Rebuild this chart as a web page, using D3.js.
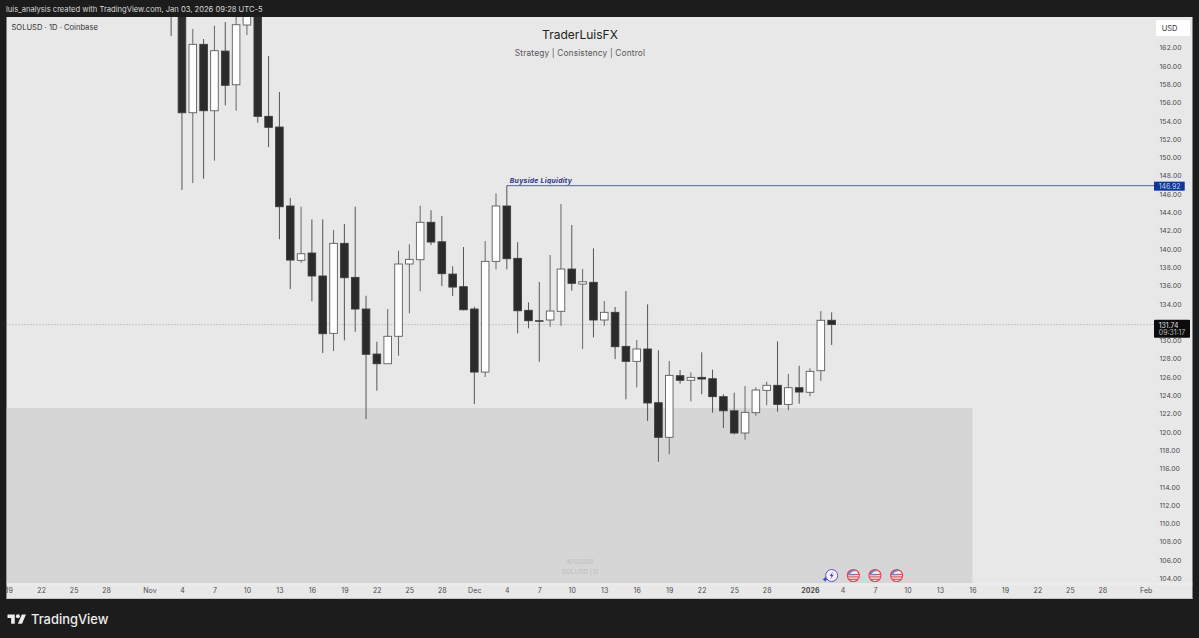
<!DOCTYPE html>
<html><head><meta charset="utf-8">
<script src="https://cdn.jsdelivr.net/npm/d3@7"></script>
<style>
html,body{margin:0;padding:0;background:#1c1c1c;overflow:hidden}
svg{display:block}
text{font-family:Inter,"Liberation Sans",sans-serif}
</style></head><body><div id="chart"></div>
<script>
const firstCandle = "2025-11-03";
const opens = [168,170,154.89,162.37,155.11,161.63,157.95,164.48,168,154.50,153.33,144.70,138.76,139.56,137.05,130.78,140.62,136.90,133.44,128.52,127.46,130.46,138.36,138.83,142.92,140.79,137.26,135.88,133.44,126.55,138.65,144.70,138.98,133.30,132.16,132.24,133.19,137.81,136.17,136.36,132.24,133.08,129.36,127.72,129.07,123.20,119.42,126.15,125.65,125.97,125.82,123.86,122.32,119.89,122.11,124.55,125.10,123.02,124.84,124.34,126.70,132.21];
const highs = [170,171,164.04,162.95,164.40,164.81,166.5,168,170,161.09,157.16,145.57,144.62,143.24,143.24,142.07,142.73,144.62,134.89,129.87,133.44,139.81,140.51,144.73,144.23,143.60,138.11,140.22,133.69,140.87,146.08,146.92,140.73,134.17,136.39,139.34,144.91,142.62,137.81,140.07,134.31,133.66,135.41,130.05,133.95,128.93,127.76,126.77,126.52,128.71,126.81,124.12,124.29,125.02,124.88,125.50,129.91,126.34,127.24,126.96,133.22,133.08];
const lows = [163.28,146.45,147.21,147.68,149.65,155.70,155.11,163.38,153.80,151.14,141.06,135.62,138.50,134.28,128.63,128.85,130.02,130.96,121.42,124.51,127.46,128.33,132.97,135.37,140.43,135.95,134.86,133.30,123.06,126.01,137.78,137.78,130.78,131.33,127.68,131.50,131.61,135.44,129.07,130.35,131.61,127.97,123.57,124.88,121.20,116.75,117.56,125.28,123.35,124.12,122.11,120.43,119.74,119.16,121.78,122.92,122.22,122.37,123.09,123.90,125.57,129.51];
const closes = [166,154.89,162.37,155.11,161.67,157.89,164.51,167,154.50,153.30,144.62,138.79,139.48,137.05,130.74,140.62,136.86,133.44,128.49,127.46,130.46,138.36,138.87,142.92,140.76,137.30,135.84,133.36,126.55,138.65,144.70,138.94,133.25,132.16,132.10,133.22,137.81,136.25,136.42,132.24,133.08,129.32,127.72,129.07,123.17,119.42,126.19,125.65,125.97,125.79,123.86,122.32,119.89,122.15,124.59,125.10,123.02,124.84,124.37,126.63,132.21,131.74];
const tickDates = ["2025-10-19","2025-10-22","2025-10-25","2025-10-28","2025-11-01","2025-11-04","2025-11-07","2025-11-10","2025-11-13","2025-11-16","2025-11-19","2025-11-22","2025-11-25","2025-11-28","2025-12-01","2025-12-04","2025-12-07","2025-12-10","2025-12-13","2025-12-16","2025-12-19","2025-12-22","2025-12-25","2025-12-28","2026-01-01","2026-01-04","2026-01-07","2026-01-10","2026-01-13","2026-01-16","2026-01-19","2026-01-22","2026-01-25","2026-01-28","2026-02-01"];
const priceTicks = [162,160,158,156,154,152,150,148,146,144,142,140,138,136,134,130,128,126,124,122,120,118,116,114,112,110,108,106,104];
const buysideLevel = 146.92, buysideDate = "2025-12-04";
const lastPrice = 131.74, countdown = "09:31:17";
const zoneTop = 122.62, zoneEndDate = "2026-01-16";
const boltDate = "2026-01-03";
const flagDates = ["2026-01-05","2026-01-07","2026-01-09"];

const W=1199,H=638, pL=6.5,pT=17,pR=1192.5,pB=599, axisY=583.5, labelX=1154;
const d=s=>new Date(s+"T00:00:00Z");
const x=d3.scaleUtc().domain([d("2025-10-19"),d("2026-02-01")]).range([8.7,1145.7]);
const y=d3.scaleLinear().domain([162,104]).range([47.7,578.4]);
const candleDays=d3.utcDay.range(d(firstCandle),d3.utcDay.offset(d(firstCandle),opens.length));
const candles=candleDays.map((t,i)=>({t,o:opens[i],h:highs[i],l:lows[i],c:closes[i]}));

const svg=d3.select("#chart").append("svg").attr("width",W).attr("height",H);
svg.append("rect").attr("width",W).attr("height",H).attr("fill","#1c1c1c");
svg.append("rect").attr("x",pL).attr("y",pT).attr("width",pR-pL).attr("height",pB-pT).attr("fill","#e8e8e8");
const defs=svg.append("defs");
defs.append("clipPath").attr("id","plot").append("rect").attr("x",pL).attr("y",pT).attr("width",pR-pL).attr("height",axisY-pT);

const plot=svg.append("g").attr("clip-path","url(#plot)");
plot.append("rect").attr("x",pL).attr("y",y(zoneTop)).attr("width",x(d(zoneEndDate))-pL)
  .attr("height",axisY-y(zoneTop)).attr("fill","#d6d6d6");
plot.append("line").attr("x1",pL).attr("x2",labelX).attr("y1",y(lastPrice)).attr("y2",y(lastPrice))
  .attr("stroke","#a8a8a8").attr("stroke-width",1).attr("stroke-dasharray","1 2");
plot.append("line").attr("x1",x(d(buysideDate))).attr("x2",labelX).attr("y1",y(buysideLevel)).attr("y2",y(buysideLevel))
  .attr("stroke","#5a6098").attr("stroke-width",1);
plot.append("text").attr("x",x(d(buysideDate))+3).attr("y",y(buysideLevel)-2.6).attr("font-size",6.8)
  .attr("font-weight",700).attr("font-style","italic").attr("fill","#2a3585").attr("letter-spacing",.3).text("Buyside Liquidity");

const bw=7.6;
const g=plot.selectAll("g.c").data(candles).join("g").attr("class","c");
g.append("line").attr("x1",c=>x(c.t)).attr("x2",c=>x(c.t)).attr("y1",c=>y(c.h)).attr("y2",c=>y(c.l))
  .attr("stroke",c=>c.c>=c.o?"#666":"#555").attr("stroke-width",1);
g.append("rect").attr("x",c=>x(c.t)-bw/2).attr("width",bw)
  .attr("y",c=>y(Math.max(c.o,c.c))).attr("height",c=>Math.max(.4,Math.abs(y(c.o)-y(c.c))))
  .attr("fill",c=>c.c>=c.o?"#fff":"#2b2b2b").attr("stroke",c=>c.c>=c.o?"#5c5c5c":"#3c3c3c").attr("stroke-width",.9);

// axes
const yAxis=d3.axisRight(y).tickValues(priceTicks).tickSize(0).tickPadding(0).tickFormat(d3.format(".2f"));
const ya=svg.append("g").attr("transform","translate(1159.5,0)").call(yAxis);
ya.select(".domain").remove();
ya.selectAll("text").attr("font-size",6.8).attr("fill","#4a4a4a").attr("letter-spacing",.1);

const xAxis=d3.axisBottom(x).tickValues(tickDates.map(d)).tickSize(0).tickPadding(0)
  .tickFormat(t=>{const m=t.getUTCMonth(),dd=t.getUTCDate();
    if(dd===1) return m===0?String(t.getUTCFullYear()):d3.utcFormat("%b")(t);
    return String(dd);});
svg.append("rect").attr("x",pL).attr("y",axisY).attr("width",pR-pL).attr("height",1).attr("fill","#efefef");
const xa=svg.append("g").attr("transform","translate(0,588)").call(xAxis);
xa.select(".domain").remove();
xa.selectAll("text").attr("font-size",7).attr("fill","#4a4a4a").attr("letter-spacing",.1)
  .attr("font-weight",t=>t.getUTCMonth()===0&&t.getUTCDate()===1?700:400);
svg.append("rect").attr("x",pL).attr("y",pB-1).attr("width",pR-pL).attr("height",1).attr("fill","#c4c4c4");

// titles
svg.append("text").attr("x",6).attr("y",12).attr("font-size",7.6).attr("fill","#d8d8d8")
  .text("luis_analysis created with TradingView.com, Jan 03, 2026 09:28 UTC-5");
svg.append("text").attr("x",11.5).attr("y",30).attr("font-size",7.6).attr("fill","#333")
  .text("SOLUSD · 1D · Coinbase");
svg.append("text").attr("x",580).attr("y",39).attr("text-anchor","middle").attr("font-size",12).attr("fill","#222").text("TraderLuisFX");
svg.append("text").attr("x",580).attr("y",55.5).attr("text-anchor","middle").attr("font-size",8.3).attr("fill","#555").attr("letter-spacing",.17).text("Strategy | Consistency | Control");
svg.append("text").attr("x",580).attr("y",564).attr("text-anchor","middle").attr("font-size",6.4).attr("fill","#bcbcbc").text("4/1/2026");
svg.append("text").attr("x",580).attr("y",574).attr("text-anchor","middle").attr("font-size",6.4).attr("fill","#bcbcbc").text("SOLUSD | D");

// USD box and price labels
svg.append("rect").attr("x",1156).attr("y",20).attr("width",34).attr("height",16).attr("rx",1.5).attr("fill","#fff");
svg.append("text").attr("x",1161.7).attr("y",31).attr("font-size",7.5).attr("fill","#333").text("USD");
const by=y(buysideLevel);
svg.append("rect").attr("x",labelX).attr("y",by-4).attr("width",30.7).attr("height",9).attr("fill","#0f3796");
svg.append("text").attr("x",labelX+4.8).attr("y",by+3).attr("font-size",6.9).attr("fill","#c8d4f0").text(buysideLevel.toFixed(2));
const ly=y(lastPrice);
svg.append("rect").attr("x",labelX).attr("y",ly-4.8).attr("width",36).attr("height",18).attr("rx",1).attr("fill","#0c0c0c");
svg.append("text").attr("x",labelX+4.8).attr("y",ly+3).attr("font-size",6.9).attr("fill","#e0e0e0").text(lastPrice.toFixed(2));
svg.append("text").attr("x",labelX+4.8).attr("y",ly+10.3).attr("font-size",6.9).attr("fill","#b8b8b8").text(countdown);

// event icons
const iy=575.5;
const bolt=svg.append("g").attr("transform",`translate(${x(d(boltDate))},${iy})`);
bolt.append("circle").attr("r",6).attr("fill","#f4f2fa").attr("stroke","#6a4fb8").attr("stroke-width",1);
bolt.append("path").attr("d","M1.2 -3.8 L-2 0.6 L-0.2 0.6 L-1.2 3.8 L2 -0.8 L0.2 -0.8 Z").attr("fill","#5a3fa8");
bolt.append("path").attr("d","M-6.5 1 L-5.6 2.9 L-3.7 3.8 L-5.6 4.7 L-6.5 6.6 L-7.4 4.7 L-9.3 3.8 L-7.4 2.9 Z").attr("fill","#3d46d6");
flagDates.forEach((s,i)=>{
  const id="flag"+i;
  defs.append("clipPath").attr("id",id).append("circle").attr("r",5.8);
  const f=svg.append("g").attr("transform",`translate(${x(d(s))},${iy})`);
  const inner=f.append("g").attr("clip-path",`url(#${id})`);
  inner.append("rect").attr("x",-7).attr("y",-7).attr("width",14).attr("height",14).attr("fill","#f6f0f0");
  [-1.6,0.8,3.2].forEach(v=>inner.append("rect").attr("x",-7).attr("y",v).attr("width",14).attr("height",1.2).attr("fill","#e2505f"));
  inner.append("path").attr("d","M-7 -1 L-3.5 -1 C-3 -3.5 0 -4.8 2.5 -4.2 L2.5 -7 L-7 -7 Z").attr("fill","#5b8fe0");
  inner.append("rect").attr("x",-7).attr("y",-1).attr("width",9).attr("height",0.8).attr("fill","#5b8fe0");
  f.append("circle").attr("r",6).attr("fill","none").attr("stroke","#e04058").attr("stroke-width",1.1);
});

// footer logo
svg.append("path").attr("transform","translate(7.5,612.3) scale(.52)")
  .attr("d","M14 22H7V11H0V4h14v18zM28 22h-8l7.5-18h8L28 22z").attr("fill","#ececec");
svg.append("circle").attr("cx",7.5+20*.52).attr("cy",612.3+7.5*.52).attr("r",2).attr("fill","#ececec");
svg.append("text").attr("x",31).attr("y",624).attr("font-size",12.9).attr("font-weight",500).attr("fill","#ececec").text("TradingView");
</script></body></html>
